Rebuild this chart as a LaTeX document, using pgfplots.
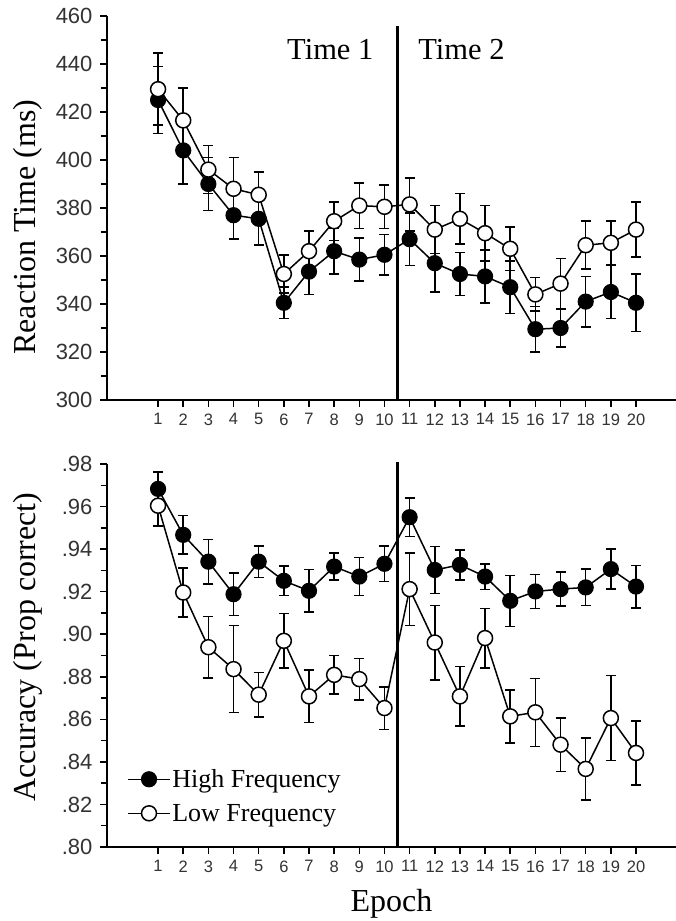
\documentclass[border=0pt]{standalone}
\usepackage{pgfplots}
\pgfplotsset{compat=1.18}
\usepackage{pgfplotstable}
\usepackage{fontspec}
\setmainfont{Liberation Serif}
\newfontfamily\tickfont{Liberation Sans}

\pgfplotstableread{
ep hi hie lo loe
1 425 14 429.5 15
2 404 14 416.5 13.5
3 390 11 396 10
4 377 10 388 13
5 375.5 11 385.5 9.5
6 340.5 6.5 352.5 8
7 353.5 9.5 362 8.5
8 362 9.5 374.5 8
9 358.5 9 381 9.5
10 360.5 8.5 380.5 9
11 367 11 381.5 11
12 357 12 371 10
13 352.5 9 375.5 10.5
14 351.5 11 369.5 11.5
15 347 11 363 9
16 329.5 9.5 344 7
17 330 8 348.5 10.5
18 341 10.5 364.5 10
19 345 11 365.5 9
20 340.5 12 371 11.5
}\rt

\pgfplotstableread{
ep hi hie lo loe
1 0.9683 0.008 0.9604 0.0095
2 0.9467 0.009 0.9196 0.0115
3 0.9341 0.0105 0.8939 0.0145
4 0.9188 0.010 0.8836 0.0205
5 0.9341 0.0074 0.8716 0.0105
6 0.9251 0.007 0.8969 0.0128
7 0.9204 0.010 0.8708 0.0123
8 0.9318 0.0063 0.8809 0.009
9 0.9271 0.009 0.8789 0.0097
10 0.9331 0.0084 0.8653 0.010
11 0.955 0.009 0.9212 0.017
12 0.9302 0.011 0.8961 0.0175
13 0.9326 0.007 0.8708 0.014
14 0.9271 0.006 0.8982 0.014
15 0.9157 0.012 0.8614 0.0125
16 0.9201 0.008 0.8633 0.016
17 0.9212 0.008 0.8481 0.0125
18 0.922 0.0086 0.8367 0.0145
19 0.9306 0.0094 0.8606 0.020
20 0.9224 0.010 0.8442 0.015
}\acc

\pgfplotsset{
  myax/.style={
    scale only axis,
    width=569pt,
    xmin=-1.03, xmax=21.59,
    axis x line*=bottom,
    axis y line*=left,
    axis line style={line width=2pt, black},
    xtick={1,...,20},
    xticklabels={1,2,3,4,5,6,7,8,9,10,11,12,13,14,15,16,17,18,19,20},
    xticklabel style={font=\tickfont\fontsize{16.5}{18}\selectfont, text=black!80, yshift=-3pt},
    yticklabel style={font=\tickfont\fontsize{22}{24}\selectfont, text=black!80, xshift=-4pt},
    tick align=outside,
    major tick length=7pt,
    minor tick length=6pt,
    minor y tick num=1,
    tick style={line width=1.5pt, black},
    clip=false,
    every axis y label/.style={rotate=90, anchor=center, font=\fontsize{32}{36}\selectfont},
  },
  hiplot/.style={black, line width=1.5pt, mark=*, mark size=7.5pt,
    mark options={fill=black, line width=1.2pt},
    error bars/.cd, y dir=both, y explicit,
    error bar style={line width=1.5pt, black},
    error mark options={rotate=90, mark size=5pt, line width=1.5pt}},
  loplot/.style={black, line width=1.5pt, mark=*, mark size=7.5pt,
    mark options={fill=white, line width=1.5pt},
    error bars/.cd, y dir=both, y explicit,
    error bar style={line width=1.5pt, black},
    error mark options={rotate=90, mark size=5pt, line width=1.5pt}},
}

\begin{document}
\begin{tikzpicture}
\path[use as bounding box] (-107pt,-521pt) rectangle (569pt,400pt);

\begin{axis}[myax,
  at={(0pt,0pt)}, anchor=south west,
  height=384pt,
  ymin=300, ymax=460,
  ytick={300,320,...,460},
  yticklabels={300,320,340,360,380,400,420,440,460},
  ylabel={Reaction Time (ms)},
  every axis y label/.append style={at={([xshift=-79pt]rel axis cs:0,0.45)}},
]
\addplot[black, line width=3pt, forget plot] coordinates {(10.5,300) (10.5,456)};
\addplot[hiplot] table[x=ep, y=hi, y error=hie] {\rt};
\addplot[loplot] table[x=ep, y=lo, y error=loe] {\rt};
\node[font=\fontsize{30.5}{34}\selectfont, anchor=base east] at (axis cs:9.70,442) {Time 1};
\node[font=\fontsize{30.5}{34}\selectfont, anchor=base west] at (axis cs:11.21,442) {Time 2};
\end{axis}

\begin{axis}[myax,
  at={(0pt,-447pt)}, anchor=south west,
  height=383pt,
  ymin=0.80, ymax=0.98,
  ytick={0.80,0.82,...,0.981},
  yticklabels={.80,.82,.84,.86,.88,.90,.92,.94,.96,.98},
  ylabel={Accuracy (Prop correct)},
  every axis y label/.append style={at={([xshift=-79pt]rel axis cs:0,0.522)}},
  xlabel={Epoch},
  every axis x label/.style={at={([yshift=-64pt]rel axis cs:0.5,0)}, anchor=base, font=\fontsize{32}{36}\selectfont},
  legend style={at={(rel axis cs:0.03,0.212)}, anchor=north west, draw=none, fill=none,
    font=\fontsize{26}{30}\selectfont, row sep=12pt,
    nodes={inner sep=1.5pt}},
  legend cell align=left,
  legend image code/.code={\draw[mark repeat=2,mark phase=2,#1] plot coordinates {(0pt,0pt) (21pt,0pt) (42pt,0pt)};},
]
\addplot[black, line width=3pt, forget plot] coordinates {(10.5,0.80) (10.5,0.981)};
\addplot[hiplot] table[x=ep, y=hi, y error=hie] {\acc};
\addplot[loplot] table[x=ep, y=lo, y error=loe] {\acc};
\legend{High Frequency, Low Frequency}
\end{axis}
\end{tikzpicture}
\end{document}
